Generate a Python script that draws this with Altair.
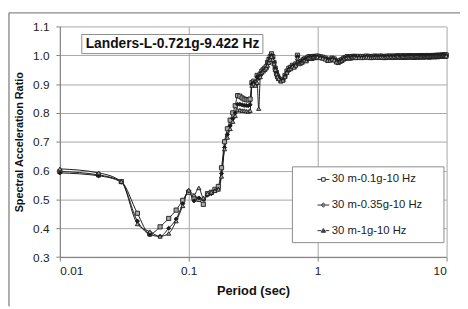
import altair as alt
import pandas as pd

# ---------------- data ----------------
periods = [0.01, 0.02, 0.03, 0.04, 0.05, 0.06, 0.07, 0.08, 0.09, 0.10,
           0.11, 0.12, 0.13, 0.14, 0.15, 0.16, 0.17, 0.18, 0.19, 0.20,
           0.21, 0.22, 0.23, 0.24, 0.25, 0.26, 0.27, 0.28, 0.29, 0.30,
           0.31, 0.32, 0.33, 0.34, 0.35, 0.36, 0.37, 0.38, 0.39, 0.40,
           0.41, 0.42, 0.43, 0.44, 0.45, 0.46, 0.47, 0.48, 0.49, 0.50,
           0.52, 0.54, 0.56, 0.58, 0.60, 0.62, 0.64, 0.66, 0.68, 0.70,
           0.72, 0.74, 0.76, 0.78, 0.80, 0.82, 0.84, 0.86, 0.88, 0.90,
           0.92, 0.94, 0.96, 0.98, 1.00,
           1.05, 1.10, 1.15, 1.20, 1.25, 1.30, 1.35, 1.40, 1.45, 1.50,
           1.55, 1.60, 1.65, 1.70, 1.75, 1.80, 1.85, 1.90, 1.95, 2.00,
           2.1, 2.2, 2.3, 2.4, 2.5, 2.6, 2.7, 2.8, 2.9, 3.0,
           3.1, 3.2, 3.3, 3.4, 3.5, 3.6, 3.7, 3.8, 3.9, 4.0,
           4.1, 4.2, 4.3, 4.4, 4.5, 4.6, 4.7, 4.8, 4.9, 5.0,
           5.1, 5.2, 5.3, 5.4, 5.5, 5.6, 5.7, 5.8, 5.9, 6.0,
           6.1, 6.2, 6.3, 6.4, 6.5, 6.6, 6.7, 6.8, 6.9, 7.0,
           7.1, 7.2, 7.3, 7.4, 7.5, 7.6, 7.7, 7.8, 7.9, 8.0,
           8.1, 8.2, 8.3, 8.4, 8.5, 8.6, 8.7, 8.8, 8.9, 9.0,
           9.1, 9.2, 9.3, 9.4, 9.5, 9.6, 9.7, 9.8, 9.9, 10.0]

ratio_01g = [0.597, 0.585, 0.562, 0.452, 0.380, 0.405, 0.434, 0.463, 0.497, 0.525,
             0.505, 0.500, 0.483, 0.520, 0.525, 0.535, 0.545, 0.610, 0.700, 0.745,
             0.775, 0.800, 0.825, 0.860, 0.858, 0.852, 0.848, 0.846, 0.845, 0.848,
             0.905, 0.910, 0.905, 0.930, 0.925, 0.935, 0.945, 0.950, 0.955, 0.960,
             0.975, 0.985, 0.995, 1.005, 0.995, 0.975, 0.955, 0.940, 0.928, 0.920,
             0.912, 0.915, 0.930, 0.945, 0.955, 0.958, 0.965, 0.962, 0.970, 1.000,
             0.975, 0.978, 0.980, 0.985, 0.988, 0.985, 0.992, 0.995, 0.995, 0.993,
             0.995, 0.996, 0.995, 0.996, 0.997,
             0.995, 0.993, 0.990, 0.985, 0.986, 0.990, 0.987, 0.980, 0.978, 0.982,
             0.985, 0.990, 0.992, 0.995, 0.994, 0.993, 0.995, 0.996, 0.996, 0.995,
             0.996, 0.995, 0.996, 0.997, 0.996, 0.995, 0.996, 0.997, 0.996, 0.996,
             0.997, 0.996, 0.995, 0.996, 0.997, 0.996, 0.997, 0.996, 0.997, 0.996,
             0.997, 0.998, 0.997, 0.996, 0.997, 0.998, 0.997, 0.996, 0.997, 0.998,
             0.997, 0.998, 0.997, 0.998, 0.997, 0.996, 0.997, 0.998, 0.998, 0.997,
             0.998, 0.997, 0.998, 0.999, 0.998, 0.997, 0.998, 0.998, 0.999, 0.998,
             0.998, 0.999, 0.998, 0.997, 0.998, 0.999, 0.998, 0.999, 0.999, 0.998,
             0.999, 0.998, 0.999, 1.000, 0.999, 0.998, 0.999, 1.000, 0.999, 0.999,
             1.000, 0.999, 1.000, 1.000, 0.999, 1.000, 1.001, 1.000, 1.000, 1.001]

ratio_035g = [0.592, 0.582, 0.560, 0.425, 0.378, 0.372, 0.400, 0.432, 0.485, 0.530,
              0.495, 0.505, 0.500, 0.515, 0.520, 0.530, 0.535, 0.590, 0.680, 0.725,
              0.755, 0.780, 0.800, 0.830, 0.830, 0.828, 0.826, 0.826, 0.825, 0.828,
              0.900, 0.905, 0.900, 0.925, 0.920, 0.930, 0.940, 0.945, 0.950, 0.955,
              0.970, 0.980, 0.990, 1.000, 0.990, 0.975, 0.955, 0.940, 0.928, 0.920,
              0.912, 0.915, 0.928, 0.942, 0.952, 0.955, 0.962, 0.960, 0.968, 0.995,
              0.972, 0.975, 0.978, 0.982, 0.985, 0.982, 0.990, 0.992, 0.993, 0.990,
              0.993, 0.994, 0.993, 0.994, 0.995,
              0.993, 0.991, 0.988, 0.983, 0.984, 0.988, 0.985, 0.978, 0.976, 0.980,
              0.983, 0.988, 0.990, 0.993, 0.992, 0.991, 0.993, 0.994, 0.994, 0.993,
              0.994, 0.993, 0.994, 0.995, 0.994, 0.993, 0.994, 0.995, 0.994, 0.994,
              0.995, 0.994, 0.993, 0.994, 0.995, 0.994, 0.995, 0.994, 0.995, 0.994,
              0.995, 0.996, 0.995, 0.994, 0.995, 0.996, 0.995, 0.994, 0.995, 0.996,
              0.995, 0.996, 0.995, 0.996, 0.995, 0.994, 0.995, 0.996, 0.996, 0.995,
              0.996, 0.995, 0.996, 0.997, 0.996, 0.995, 0.996, 0.996, 0.997, 0.996,
              0.996, 0.997, 0.996, 0.995, 0.996, 0.997, 0.996, 0.997, 0.997, 0.996,
              0.997, 0.996, 0.997, 0.998, 0.997, 0.996, 0.997, 0.998, 0.997, 0.997,
              0.998, 0.997, 0.998, 0.998, 0.997, 0.998, 0.999, 0.998, 0.998, 0.999]

ratio_1g = [0.606, 0.592, 0.562, 0.415, 0.388, 0.372, 0.382, 0.425, 0.478, 0.532,
            0.515, 0.540, 0.505, 0.520, 0.525, 0.530, 0.535, 0.580, 0.675, 0.715,
            0.745, 0.770, 0.790, 0.810, 0.810, 0.808, 0.808, 0.806, 0.805, 0.808,
            0.895, 0.900, 0.895, 0.905, 0.815, 0.925, 0.940, 0.945, 0.950, 0.955,
            0.965, 0.975, 0.985, 0.995, 0.985, 0.970, 0.950, 0.935, 0.925, 0.918,
            0.910, 0.913, 0.926, 0.940, 0.950, 0.953, 0.960, 0.958, 0.965, 0.990,
            0.970, 0.972, 0.975, 0.980, 0.982, 0.980, 0.988, 0.990, 0.990, 0.988,
            0.990, 0.992, 0.991, 0.992, 0.993,
            0.991, 0.989, 0.986, 0.981, 0.982, 0.986, 0.983, 0.976, 0.974, 0.978,
            0.981, 0.986, 0.988, 0.991, 0.990, 0.989, 0.991, 0.992, 0.992, 0.991,
            0.992, 0.991, 0.992, 0.993, 0.992, 0.991, 0.992, 0.993, 0.992, 0.992,
            0.993, 0.992, 0.991, 0.992, 0.993, 0.992, 0.993, 0.992, 0.993, 0.992,
            0.993, 0.994, 0.993, 0.992, 0.993, 0.994, 0.993, 0.992, 0.993, 0.994,
            0.993, 0.994, 0.993, 0.994, 0.993, 0.992, 0.993, 0.994, 0.994, 0.993,
            0.994, 0.993, 0.994, 0.995, 0.994, 0.993, 0.994, 0.994, 0.995, 0.994,
            0.994, 0.995, 0.994, 0.993, 0.994, 0.995, 0.994, 0.995, 0.995, 0.994,
            0.995, 0.994, 0.995, 0.996, 0.995, 0.994, 0.995, 0.996, 0.995, 0.995,
            0.996, 0.995, 0.996, 0.996, 0.995, 0.996, 0.997, 0.996, 0.996, 0.997]

series_names = ["30 m-0.1g-10 Hz", "30 m-0.35g-10 Hz", "30 m-1g-10 Hz"]
x_ticks = [0.01, 0.1, 1, 10]
y_ticks = [0.3, 0.4, 0.5, 0.6, 0.7, 0.8, 0.9, 1.0, 1.1]
annotation = "Landers-L-0.721g-9.422 Hz"
x_title = "Period (sec)"
y_title = "Spectral Acceleration Ratio"

rows = []
for name, vals in zip(series_names, [ratio_01g, ratio_035g, ratio_1g]):
    for p, v in zip(periods, vals):
        rows.append({"period": p, "ratio": v, "series": name})
df = pd.DataFrame(rows)

# ---------------- chart ----------------
W, H = 392.6, 234.4
FONT = "Liberation Sans"
INK = "#1a1a1a"
GRID = "#a6a6a6"
FRAME = "#8a8a8a"

x_enc = alt.X("period:Q",
              scale=alt.Scale(type="log", domain=[0.01, 10], nice=False),
              axis=alt.Axis(values=x_ticks, format="~g", title=x_title,
                            titleFontSize=13, titlePadding=8,
                            labelPadding=5, tickSize=4))
y_enc = alt.Y("ratio:Q",
              scale=alt.Scale(domain=[0.3, 1.1], nice=False, zero=False),
              axis=alt.Axis(values=y_ticks, format=".1f", title=y_title,
                            titleFontSize=11, titlePadding=8,
                            labelPadding=7, tickSize=4))

lines = alt.Chart(df).mark_line(
    interpolate="monotone", color=INK, strokeWidth=1
).encode(x=x_enc, y=y_enc, detail="series:N")

points = alt.Chart(df).mark_point(
    filled=True, size=18, stroke=INK, strokeWidth=0.9, opacity=1
).encode(
    x=x_enc, y=y_enc,
    shape=alt.Shape("series:N", legend=None,
                    scale=alt.Scale(domain=series_names,
                                    range=["square", "diamond", "triangle-up"])),
    fill=alt.Fill("series:N", legend=None,
                  scale=alt.Scale(domain=series_names,
                                  range=["#a8a8a8", INK, "#a8a8a8"])),
)

legend_paths = [
    "M-1,0H-0.3M0.3,0H1M-0.3,-0.3H0.3V0.3H-0.3Z",
    "M-1,0H-0.36M0.36,0H1M0,-0.36L0.36,0L0,0.36L-0.36,0ZM0,-0.18L0.18,0L0,0.18L-0.18,0Z",
    "M-1,0H-0.35M0.35,0H1M0,-0.36L0.36,0.28L-0.36,0.28ZM0,-0.15L0.16,0.16L-0.16,0.16Z",
]
leg = alt.Legend(orient="none", legendX=261.3, legendY=149, title=None,
                 symbolSize=144, symbolStrokeWidth=0.9, symbolStrokeColor=INK,
                 symbolOpacity=1,
                 labelFont=FONT, labelFontSize=11.5, labelColor="#222222",
                 rowPadding=14, labelOffset=2, padding=0)
legend_layer = alt.Chart(df).transform_filter(
    alt.datum.period > 100
).mark_point(filled=False, color=INK, strokeWidth=0.9, opacity=1).encode(
    x=x_enc, y=y_enc,
    shape=alt.Shape("series:N", legend=leg,
                    scale=alt.Scale(domain=series_names, range=legend_paths)),
)

one = pd.DataFrame({"label": [annotation]})
legend_box = alt.Chart(one).mark_rect(
    fill="white", stroke="#8c8c8c", strokeWidth=1
).encode(x=alt.value(236.3), x2=alt.value(390.3),
         y=alt.value(142.7), y2=alt.value(219.7))

title_box = alt.Chart(one).mark_rect(
    fill="white", stroke="#8c8c8c", strokeWidth=1
).encode(x=alt.value(22.3), x2=alt.value(206.3),
         y=alt.value(8.2), y2=alt.value(27.6))
title_text = alt.Chart(one).mark_text(
    font=FONT, fontSize=14, fontWeight="bold", color="#111111",
    align="center", baseline="middle"
).encode(x=alt.value(114.5), y=alt.value(18.4), text="label:N")

frame_df = pd.DataFrame({"edge": ["frame"]})
frame_top = alt.Chart(frame_df).mark_rule(color=FRAME, strokeWidth=1.4).encode(
    x=alt.value(-51.7), x2=alt.value(W + 14), y=alt.value(-13.8))
frame_left = alt.Chart(frame_df).mark_rule(color=FRAME, strokeWidth=1.4).encode(
    x=alt.value(-51.7), y=alt.value(-13.8), y2=alt.value(H + 50))

chart = alt.layer(
    lines, points, title_box, title_text, legend_box, legend_layer,
    frame_top, frame_left
).resolve_scale(
    shape="independent", fill="independent"
).properties(
    width=W, height=H, autosize="none", background="white",
    padding={"left": 52.7, "top": 16.3, "right": 14, "bottom": 50},
).configure_view(
    stroke=None
).configure_axis(
    grid=True, gridColor=GRID, gridWidth=1,
    domainColor="#808080", tickColor="#808080",
    labelFont=FONT, labelFontSize=12, labelColor="#222222",
    titleFont=FONT, titleFontWeight="bold", titleColor="#111111",
)

chart.save("out.html", embed_options={"renderer": "svg", "actions": False})
